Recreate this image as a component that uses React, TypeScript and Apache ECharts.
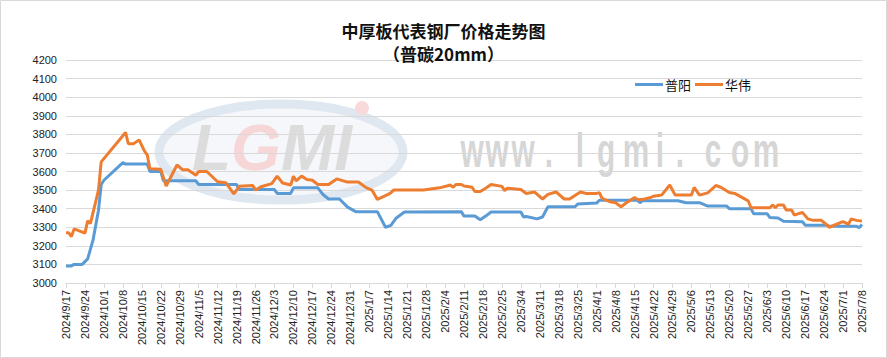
import React, { useEffect, useRef } from "react";
import * as echarts from "echarts";

// x values are day offsets from 2024/9/17
const START_UTC = Date.UTC(2024, 8, 17);
const TOTAL_DAYS = 294; // 2025/7/8
const WEEK = 7;

const seriesNames = ["普阳", "华伟"];

const puyang: [number, number][] = [
  [0, 3092], [2, 3092], [3, 3100], [6, 3100], [8, 3130], [10, 3232], [12, 3392], [13, 3530],
  [14, 3553], [21, 3648], [22, 3640], [30, 3640], [31, 3600], [35, 3600], [36, 3550], [48, 3550],
  [49, 3530], [63, 3530], [64, 3503], [77, 3503], [78, 3482], [83, 3482], [84, 3512], [93, 3512],
  [95, 3475], [97, 3452], [101, 3452], [104, 3408], [107, 3384], [115, 3384], [118, 3300], [120, 3310],
  [122, 3350], [125, 3382], [146, 3384], [147, 3360], [151, 3360], [153, 3340], [155, 3360], [157, 3382],
  [168, 3382], [169, 3355], [170, 3358], [174, 3345], [176, 3355], [178, 3410], [188, 3410], [189, 3425],
  [196, 3430], [197, 3445], [211, 3445], [212, 3432], [213, 3443], [226, 3443], [229, 3432], [234, 3432],
  [237, 3414], [244, 3414], [245, 3400], [253, 3400], [254, 3372], [259, 3372], [260, 3352], [263, 3350],
  [265, 3332], [272, 3330], [273, 3311], [281, 3311], [282, 3305], [292, 3305], [293, 3298], [294, 3315],
];

const huawei: [number, number][] = [
  [0, 3271], [1, 3270], [2, 3250], [3, 3291], [7, 3268], [8, 3334], [9, 3320], [12, 3500],
  [13, 3652], [22, 3810], [23, 3750], [25, 3750], [27, 3770], [29, 3710], [30, 3690], [31, 3615],
  [35, 3612], [37, 3522], [41, 3635], [43, 3610], [45, 3610], [48, 3580], [49, 3600], [52, 3600],
  [56, 3545], [59, 3540], [62, 3480], [64, 3520], [69, 3525], [70, 3500], [72, 3518], [76, 3535],
  [78, 3575], [80, 3538], [83, 3527], [84, 3575], [85, 3550], [87, 3575], [89, 3557], [91, 3553],
  [93, 3530], [97, 3530], [100, 3560], [104, 3543], [108, 3543], [111, 3512], [113, 3500], [115, 3450],
  [119, 3477], [120, 3486], [121, 3500], [132, 3500], [138, 3512], [142, 3527], [143, 3515], [144, 3530],
  [146, 3530], [147, 3522], [150, 3515], [151, 3492], [153, 3492], [155, 3510], [157, 3530], [161, 3520],
  [162, 3497], [163, 3510], [168, 3503], [170, 3482], [173, 3490], [176, 3452], [178, 3477], [181, 3490],
  [184, 3452], [186, 3452], [190, 3490], [192, 3482], [196, 3482], [197, 3486], [198, 3455], [201, 3437],
  [203, 3432], [205, 3410], [207, 3432], [210, 3460], [211, 3450], [213, 3450], [216, 3460], [217, 3467],
  [220, 3473], [223, 3527], [225, 3473], [231, 3473], [232, 3514], [234, 3473], [237, 3485], [239, 3510],
  [240, 3525], [242, 3514], [245, 3487], [247, 3482], [251, 3450], [252, 3441], [253, 3405], [260, 3405],
  [261, 3420], [262, 3405], [263, 3420], [265, 3420], [266, 3393], [268, 3393], [269, 3365], [272, 3380],
  [274, 3345], [276, 3337], [279, 3337], [282, 3300], [286, 3325], [287, 3330], [289, 3316], [290, 3345],
  [292, 3337], [294, 3333],
];

const Y_MIN = 3000;
const Y_MAX = 4200;
const Y_STEP = 100;

const watermarkChars = ["w", "w", "w", ".", "l", "g", "m", "i", ".", "c", "o", "m"];
const watermarkX = [472, 497, 523, 549, 580, 606, 636, 660, 680, 713, 740, 766];

function dayLabel(d: number): string {
  const dt = new Date(START_UTC + d * 86400000);
  return `${dt.getUTCFullYear()}/${dt.getUTCMonth() + 1}/${dt.getUTCDate()}`;
}

export default function App() {
  const ref = useRef<HTMLDivElement>(null);
  useEffect(() => {
    if (!ref.current) return;
    const chart = echarts.init(ref.current, undefined, { renderer: "svg" });
    const wmText = watermarkChars.map((c, i) => ({
      type: "text",
      x: watermarkX[i],
      y: 150,
      z: -10,
      scaleX: 0.62,
      originX: 0,
      originY: 0,
      style: {
        text: c,
        fill: "#d6d6d6",
        font: "bold 48px 'Liberation Sans', Arial, sans-serif",
        align: "center",
        verticalAlign: "middle",
      },
    }));
    chart.setOption({
      animation: false,
      backgroundColor: "#ffffff",
      title: {
        text: "中厚板代表钢厂价格走势图\n（普碳20mm）",
        left: "center",
        top: 14,
        textStyle: {
          fontSize: 17,
          fontWeight: "bold",
          color: "#111",
          lineHeight: 23,
          fontFamily: "'Noto Sans CJK SC', sans-serif",
        },
      },
      legend: {
        data: seriesNames,
        left: 630,
        top: 73,
        icon: "rect",
        itemWidth: 28,
        itemHeight: 3,
        itemGap: 4,
        textStyle: { fontSize: 13, color: "#111", fontFamily: "'Noto Sans CJK SC', sans-serif", padding: [0, 0, 0, -3] },
      },
      grid: { left: 66, right: 25, top: 60, bottom: 75, containLabel: false },
      xAxis: {
        type: "value",
        min: 0,
        max: TOTAL_DAYS,
        interval: WEEK,
        splitLine: { show: false },
        axisLine: { show: true, lineStyle: { color: "#d9d9d9", width: 1 } },
        axisTick: { show: true, length: 5, lineStyle: { color: "#d9d9d9" } },
        axisLabel: {
          rotate: 90,
          margin: 7,
          fontSize: 11,
          color: "#222",
          fontFamily: "'Liberation Sans', Arial, sans-serif",
          formatter: (v: number) => dayLabel(v),
          showMinLabel: true,
          showMaxLabel: true,
        },
      },
      yAxis: {
        type: "value",
        min: Y_MIN,
        max: Y_MAX,
        interval: Y_STEP,
        axisLine: { show: false },
        axisTick: { show: false },
        splitLine: { lineStyle: { color: "#d9d9d9", width: 1 } },
        axisLabel: {
          fontSize: 11,
          color: "#222",
          margin: 9,
          fontFamily: "'Liberation Sans', Arial, sans-serif",
          formatter: (v: number) => String(v),
        },
      },
      graphic: [
        {
          type: "rect",
          z: -20,
          shape: { x: 0.5, y: 0.5, width: 886, height: 357 },
          style: { fill: "none", stroke: "#d9d9d9", lineWidth: 1 },
        },
        {
          type: "ellipse",
          z: -10,
          shape: { cx: 281, cy: 152, rx: 122, ry: 48 },
          style: { fill: "rgba(225,233,242,0.35)", stroke: "#dfe7f0", lineWidth: 9 },
        },
        {
          type: "text",
          z: -9,
          x: 272,
          y: 148,
          style: {
            text: "{a|L}{b|G}{a|MI}",
            align: "center",
            verticalAlign: "middle",
            rich: {
              a: { fontSize: 64, fontWeight: "bold", fontStyle: "italic", fill: "#dcdcdc", fontFamily: "'Liberation Sans', Arial, sans-serif" },
              b: { fontSize: 64, fontWeight: "bold", fontStyle: "italic", fill: "#f6d6d6", fontFamily: "'Liberation Sans', Arial, sans-serif" },
            },
          },
        },
        {
          type: "circle",
          z: -9,
          shape: { cx: 362, cy: 108, r: 7 },
          style: { fill: "#f8dada" },
        },
        ...wmText,
      ],
      series: [
        {
          name: seriesNames[0],
          type: "line",
          data: puyang,
          showSymbol: false,
          symbol: "none",
          color: "#5b9bd5",
          lineStyle: { width: 3, color: "#5b9bd5" },
          z: 3,
        },
        {
          name: seriesNames[1],
          type: "line",
          data: huawei,
          showSymbol: false,
          symbol: "none",
          color: "#ed7d31",
          lineStyle: { width: 3, color: "#ed7d31" },
          z: 4,
        },
      ],
    });
    return () => chart.dispose();
  }, []);
  return (
    <div
      ref={ref}
      style={{ position: "absolute", left: 0, top: 0, width: 887, height: 358 }}
    />
  );
}
